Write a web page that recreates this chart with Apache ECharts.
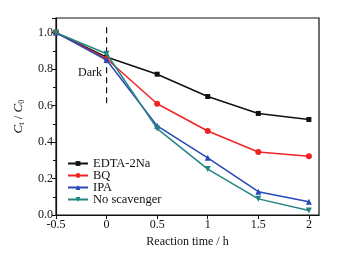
<!DOCTYPE html>
<html>
<head>
<meta charset="utf-8">
<script src="https://cdn.jsdelivr.net/npm/echarts@6/dist/echarts.min.js"></script>
<style>
  html, body { margin: 0; padding: 0; background: #fff; }
  #chart { width: 341px; height: 253px; }
</style>
</head>
<body>
<div id="chart"></div>
<script>
// reaction time (h), dark stage from -0.5 to 0
const times = [-0.5, 0, 0.5, 1, 1.5, 2];
const edta = [1.0, 0.866, 0.772, 0.650, 0.557, 0.524];
const bq = [1.0, 0.857, 0.610, 0.461, 0.346, 0.322];
const ipa = [1.0, 0.850, 0.489, 0.314, 0.128, 0.073];
const noScav = [1.0, 0.884, 0.474, 0.252, 0.089, 0.025];
const seriesNames = ['EDTA-2Na', 'BQ', 'IPA', 'No scavenger'];
const darkLine = [[0, 1.03], [0, 0.6]];

const font = 'Liberation Serif';
const colors = ['#111111', '#f02424', '#2748b8', '#23857f'];
const symbols = ['rect', 'circle', 'triangle', 'triangle'];

function pairs(ys) {
  return times.map(function (t, i) { return [t, ys[i]]; });
}

const allData = [edta, bq, ipa, noScav];
const chart = echarts.init(document.getElementById('chart'));

let series = allData.map(function (d, i) {
  return {
    name: seriesNames[i],
    type: 'line',
    data: pairs(d),
    symbol: symbols[i],
    symbolSize: i == 0 ? 5 : 6,
    symbolRotate: i == 3 ? 180 : 0,
    lineStyle: { color: colors[i], width: 1.5 },
    itemStyle: { color: colors[i] },
    z: 3 + i
  };
});
series.push({
  name: 'dark',
  type: 'line',
  data: darkLine,
  symbol: 'none',
  lineStyle: { color: '#111', width: 1.2, type: [6, 4] },
  z: 2
});

chart.setOption({
  animation: false,
  backgroundColor: '#fff',
  grid: {
    left: 56, right: 22, top: 18, bottom: 37,
    show: true, borderColor: '#111', borderWidth: 1.2
  },
  legend: {
    data: seriesNames,
    orient: 'vertical',
    left: 62, top: 152,
    itemGap: -1,
    itemWidth: 20,
    itemHeight: 6,
    textStyle: { fontFamily: font, fontSize: 12.5, color: '#111' }
  },
  xAxis: {
    type: 'value',
    min: -0.5, max: 2.1, interval: 0.5,
    name: 'Reaction time / h',
    nameLocation: 'middle',
    nameGap: 18,
    nameTextStyle: { fontFamily: font, fontSize: 12, color: '#111' },
    axisLine: { onZero: false, lineStyle: { color: '#111', width: 1.2 } },
    axisTick: { inside: false, length: 4, lineStyle: { color: '#111' } },
    splitLine: { show: false },
    axisLabel: {
      fontFamily: font, fontSize: 12, color: '#111', margin: 4,
      showMaxLabel: false,
      formatter: function (v) { return String(Math.round(v * 10) / 10); }
    }
  },
  yAxis: {
    type: 'value',
    min: 0, max: 1.08, interval: 0.2,
    name: '{i|C}{s|t}{n| / }{i|C}{s|0}',
    nameLocation: 'middle',
    nameGap: 30,
    nameRotate: 90,
    nameTextStyle: {
      rich: {
        i: { fontFamily: font, fontSize: 13, fontStyle: 'italic', color: '#111' },
        s: { fontFamily: font, fontSize: 8, color: '#111', verticalAlign: 'bottom', padding: [6, 0, 0, 0] },
        n: { fontFamily: font, fontSize: 13, color: '#111' }
      }
    },
    axisLine: { show: true, onZero: false, lineStyle: { color: '#111', width: 1.2 } },
    axisTick: { show: true, length: 4, lineStyle: { color: '#111' } },
    minorTick: { show: true, splitNumber: 2, length: 3, lineStyle: { color: '#111' } },
    splitLine: { show: false },
    axisLabel: {
      fontFamily: font, fontSize: 12, color: '#111', margin: 3,
      showMaxLabel: false,
      formatter: function (v) { return v.toFixed(1); }
    }
  },
  graphic: [{
    type: 'text',
    left: 78, top: 67,
    style: { text: 'Dark', fontFamily: font, fontSize: 12, fill: '#111' }
  }],
  series: series
});
</script>
</body>
</html>
